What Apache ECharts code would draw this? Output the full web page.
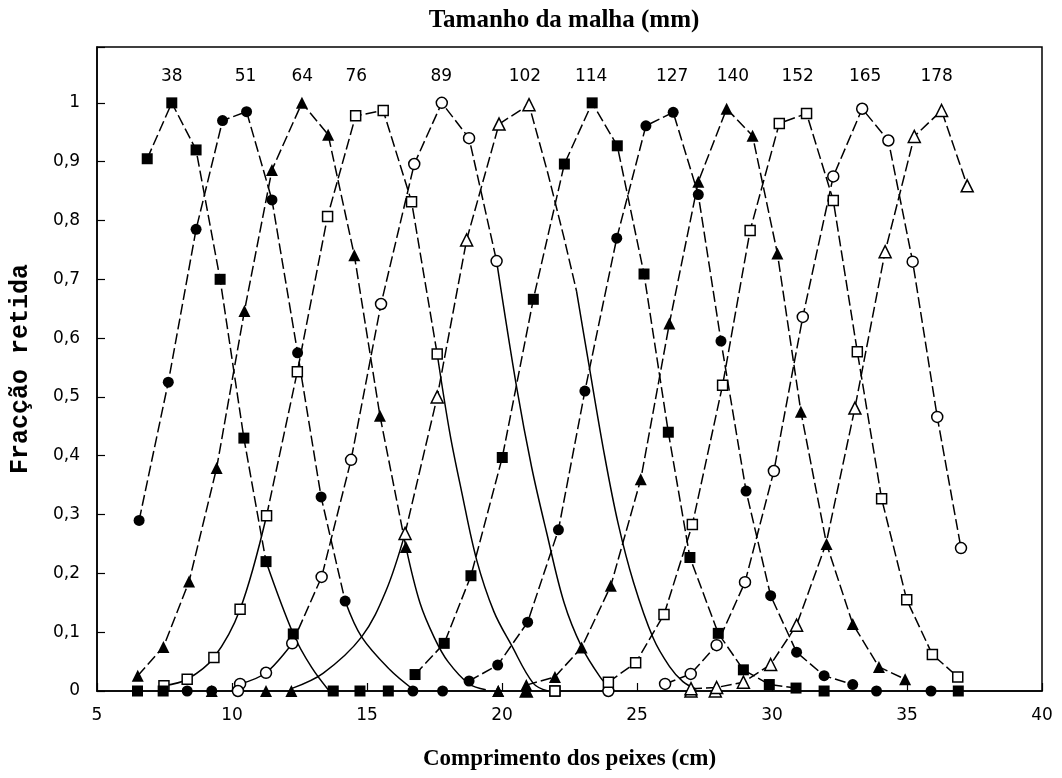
<!DOCTYPE html>
<html><head><meta charset="utf-8">
<script src="https://cdn.jsdelivr.net/npm/echarts@6/dist/echarts.min.js"></script>
<style>html,body{margin:0;padding:0;background:#fff}#c{width:1062px;height:778px}</style>
</head><body><div id="c"></div>
<script>
// Mesh sizes (mm) and where their label sits (fish length, cm)
const meshSizes = ['38','51','64','76','89','102','114','127','140','152','165','178'];
const meshLabelX = [7.77,10.5,12.6,14.6,17.75,20.85,23.3,26.3,28.55,30.95,33.45,36.1];
const xTicks = [5,10,15,20,25,30,35,40];

// marked points (length cm, fraction retained)
const marks38 = [[6.86,0.905],[7.77,1.0],[8.67,0.92],[9.56,0.70],[10.44,0.43],[11.26,0.22],[12.27,0.097],[13.75,0],[14.74,0],[15.79,0]];
const dash38 = [[6.86,0.905],[7.77,1.0],[8.67,0.92],[9.56,0.70],[10.44,0.43],[11.26,0.22]];
const solid38 = [[11.26,0.22],[12.27,0.097],[12.95,0.04],[13.6,0.0]];

const marks51 = [[6.56,0.29],[7.64,0.525],[8.67,0.785],[9.65,0.97],[10.54,0.985],[11.48,0.835],[12.43,0.575],[13.3,0.33],[14.19,0.153],[16.7,0]];
const dash51 = [[6.56,0.29],[7.64,0.525],[8.67,0.785],[9.65,0.97],[10.54,0.985],[11.48,0.835],[12.43,0.575],[13.3,0.33],[14.19,0.153]];
const solid51 = [[14.19,0.153],[14.8,0.092],[15.85,0.036],[16.7,0.003]];

const marks64 = [[6.51,0.026],[7.46,0.075],[8.41,0.186],[9.43,0.379],[10.46,0.646],[11.48,0.886],[12.59,1.0],[13.56,0.946],[14.53,0.741],[15.48,0.468],[16.44,0.245],[19.86,0],[20.9,0]];
const dash64 = [[6.51,0.026],[7.46,0.075],[8.41,0.186],[9.43,0.379],[10.46,0.646],[11.48,0.886],[12.59,1.0],[13.56,0.946],[14.53,0.741],[15.48,0.468],[16.44,0.245]];
const solid64 = [[16.44,0.245],[16.96,0.15],[17.5,0.09],[18.0,0.05],[18.78,0.012],[19.4,0.002]];

const marks76 = [[7.48,0.009],[8.34,0.02],[9.33,0.057],[10.3,0.139],[11.28,0.298],[12.42,0.543],[13.54,0.807],[14.58,0.978],[15.6,0.987],[16.65,0.832],[17.6,0.573],[21.96,0]];
const solidL76 = [[7.48,0.009],[8.34,0.02],[9.33,0.057],[10.3,0.139],[11.28,0.298]];
const dash76 = [[11.28,0.298],[12.42,0.543],[13.54,0.807],[14.58,0.978],[15.6,0.987],[16.65,0.832],[17.6,0.573]];
const solid76 = [[17.6,0.573],[18.07,0.438],[18.5,0.34],[19.06,0.223],[19.7,0.135],[20.36,0.077],[21.16,0.013],[21.7,0.0]];

const marks89 = [[10.3,0.012],[11.26,0.031],[12.23,0.081],[13.32,0.194],[14.41,0.393],[15.52,0.658],[16.75,0.896],[17.77,1.0],[18.78,0.94],[19.8,0.731],[23.94,0]];
const solidL89 = [[10.3,0.012],[11.26,0.031],[12.23,0.081]];
const dash89 = [[12.23,0.081],[13.32,0.194],[14.41,0.393],[15.52,0.658],[16.75,0.896],[17.77,1.0],[18.78,0.94],[19.8,0.731]];
const solid89 = [[19.8,0.731],[20.54,0.517],[21.1,0.38],[21.65,0.27],[22.3,0.15],[22.95,0.075],[23.63,0.024],[24.0,0.005]];

const marks102 = [[16.41,0.268],[17.6,0.50],[18.69,0.767],[19.89,0.964],[21.0,0.997],[27.0,0],[27.9,0]];
const solidL102 = [[12.2,0.004],[13.37,0.03],[14.8,0.092],[15.7,0.17],[16.41,0.268]];
const dash102 = [[16.41,0.268],[17.6,0.50],[18.69,0.767],[19.89,0.964],[21.0,0.997],[21.7,0.88],[22.3,0.77],[22.76,0.68]];
const solid102 = [[22.76,0.68],[23.2,0.56],[23.8,0.40],[24.3,0.285],[24.87,0.185],[25.6,0.09],[26.2,0.042],[26.7,0.016],[27.2,0.003]];

const marks114 = [[6.5,0],[7.45,0],[16.78,0.028],[17.86,0.081],[18.85,0.196],[20.01,0.397],[21.16,0.666],[22.31,0.896],[23.34,1.0],[24.27,0.927],[25.26,0.709],[26.16,0.44],[26.96,0.227],[28.01,0.098],[28.94,0.036],[29.9,0.011],[30.89,0.005],[31.93,0],[36.9,0]];
const dash114 = [[16.78,0.028],[17.86,0.081],[18.85,0.196],[20.01,0.397],[21.16,0.666],[22.31,0.896],[23.34,1.0],[24.27,0.927],[25.26,0.709],[26.16,0.44],[26.96,0.227],[28.01,0.098],[28.94,0.036],[29.9,0.011],[30.89,0.005]];

const marks127 = [[8.34,0],[9.25,0],[17.8,0],[18.78,0.017],[19.84,0.044],[20.95,0.117],[22.09,0.274],[23.07,0.51],[24.25,0.77],[25.33,0.961],[26.34,0.984],[27.27,0.844],[28.11,0.595],[29.04,0.34],[29.95,0.162],[30.91,0.066],[31.93,0.026],[32.99,0.011],[33.87,0],[35.89,0]];
const dash127 = [[18.78,0.017],[19.84,0.044],[20.95,0.117],[22.09,0.274],[23.07,0.51],[24.25,0.77],[25.33,0.961],[26.34,0.984],[27.27,0.844],[28.11,0.595],[29.04,0.34],[29.95,0.162],[30.91,0.066],[31.93,0.026],[32.99,0.011]];

const marks140 = [[9.25,0],[11.26,0],[12.2,0],[19.86,0],[20.9,0.01],[21.96,0.024],[22.95,0.074],[24.03,0.179],[25.14,0.36],[26.2,0.625],[27.27,0.866],[28.32,0.99],[29.28,0.944],[30.2,0.744],[31.07,0.475],[32.02,0.25],[32.99,0.114],[33.96,0.041],[34.93,0.02]];
const dash140 = [[20.9,0.01],[21.96,0.024],[22.95,0.074],[24.03,0.179],[25.14,0.36],[26.2,0.625],[27.27,0.866],[28.32,0.99],[29.28,0.944],[30.2,0.744],[31.07,0.475],[32.02,0.25],[32.99,0.114],[33.96,0.041],[34.93,0.02]];

const marks152 = [[21.96,0],[23.94,0.015],[24.95,0.048],[26.0,0.13],[27.05,0.283],[28.17,0.52],[29.19,0.783],[30.27,0.965],[31.28,0.982],[32.27,0.834],[33.16,0.577],[34.06,0.327],[34.99,0.155],[35.94,0.062],[36.88,0.024]];
const dash152 = [[23.94,0.015],[24.95,0.048],[26.0,0.13],[27.05,0.283],[28.17,0.52],[29.19,0.783],[30.27,0.965],[31.28,0.982],[32.27,0.834],[33.16,0.577],[34.06,0.327],[34.99,0.155],[35.94,0.062],[36.88,0.024]];

const marks165 = [[10.22,0],[26.04,0.012],[26.99,0.029],[27.95,0.078],[29.0,0.185],[30.07,0.374],[31.14,0.636],[32.27,0.875],[33.34,0.99],[34.31,0.936],[35.21,0.73],[36.12,0.466],[37.0,0.243]];
const dash165 = [[26.04,0.012],[26.99,0.029],[27.95,0.078],[29.0,0.185],[30.07,0.374],[31.14,0.636],[32.27,0.875],[33.34,0.99],[34.31,0.936],[35.21,0.73],[36.12,0.466],[37.0,0.243]];

const marks178 = [[20.9,0],[27.0,0.004],[27.95,0.006],[28.94,0.015],[29.95,0.045],[30.91,0.112],[33.07,0.481],[34.19,0.747],[35.27,0.943],[36.28,0.987],[37.23,0.859]];
const dash178 = [[27.0,0.004],[27.95,0.006],[28.94,0.015],[29.95,0.045],[30.91,0.112],[32.0,0.25],[33.07,0.481],[34.19,0.747],[35.27,0.943],[36.28,0.987],[37.23,0.859]];

const allMarks = [marks38,marks51,marks64,marks76,marks89,marks102,marks114,marks127,marks140,marks152,marks165,marks178];
const allDash = [dash38,dash51,dash64,dash76,dash89,dash102,dash114,dash127,dash140,dash152,dash165,dash178];
const allSolid = [[solid38],[solid51],[solid64],[solidL76,solid76],[solidL89,solid89],[solidL102,solid102],[],[],[],[],[],[]];

const shapes = ['rect','circle','triangle'];
const series = [];
allDash.forEach(function(d){
  series.push({type:'line',data:d,symbol:'none',silent:true,z:2,
    lineStyle:{color:'#000',width:1.5,type:[11,4]}});
});
allSolid.forEach(function(list){
  list.forEach(function(d){
    series.push({type:'line',data:d,symbol:'none',silent:true,z:2,smooth:0.35,
      lineStyle:{color:'#000',width:1.5,type:'solid'}});
  });
});
allMarks.forEach(function(d,i){
  const shape = shapes[i%3];
  const filled = (i%6) < 3;
  const size = shape==='rect' ? (filled?11:10) : shape==='circle' ? 11 : 12;
  series.push({type:'scatter',data:d,symbol:shape,symbolSize:size,silent:true,z:3+(filled?1:0),
    itemStyle: filled ? {color:'#000',borderColor:'#000',borderWidth:0,opacity:1}
                      : {color:'#fff',borderColor:'#000',borderWidth:1.5,opacity:1}});
});
series.push({type:'scatter',symbol:'circle',symbolSize:2,silent:true,z:6,
  itemStyle:{color:'rgba(255,255,255,0)',borderWidth:0,opacity:1},
  data: meshLabelX.map(function(x,i){return {value:[x,1.045],name:meshSizes[i]};}),
  label:{show:true,position:'inside',formatter:function(p){return p.name;},color:'#000',fontSize:17,fontFamily:'DejaVu Sans',opacity:1},
  labelLayout:{hideOverlap:false}});

const chart = echarts.init(document.getElementById('c'),null,{renderer:'canvas'});
chart.setOption({
  animation:false,
  backgroundColor:'#fff',
  grid:{left:97,right:20,top:47,bottom:87,show:true,borderColor:'#000',borderWidth:1.5,backgroundColor:'transparent'},
  graphic:[{type:'text',x:564,y:21,style:{text:'Tamanho da malha (mm)',textAlign:'center',textVerticalAlign:'middle',
    font:'bold 25px "Liberation Serif"',fill:'#000'}}],
  xAxis:{type:'value',min:xTicks[0],max:xTicks[xTicks.length-1],interval:5,
    name:'Comprimento dos peixes (cm)',nameLocation:'middle',nameGap:57,
    nameTextStyle:{fontFamily:'Liberation Serif',fontWeight:'bold',fontSize:23,color:'#000'},
    axisLine:{show:true,lineStyle:{color:'#000',width:1.5}},
    axisTick:{show:true,inside:true,length:8,lineStyle:{color:'#000',width:1.2}},
    axisLabel:{color:'#000',fontSize:17,fontFamily:'DejaVu Sans',margin:16},
    splitLine:{show:false}},
  yAxis:{type:'value',min:0,max:1.095,interval:0.1,
    name:'Fracção retida',nameLocation:'middle',nameRotate:90,nameGap:64,
    nameTextStyle:{fontFamily:'Liberation Mono',fontWeight:'bold',fontSize:25,color:'#000'},
    axisLine:{show:true,lineStyle:{color:'#000',width:1.5}},
    axisTick:{show:true,inside:true,length:8,lineStyle:{color:'#000',width:1.2}},
    axisLabel:{color:'#000',fontSize:17,fontFamily:'DejaVu Sans',margin:17,
      formatter:function(v){ if(v>1.0001) return ''; if(Math.abs(v)<1e-9) return '0'; if(Math.abs(v-1)<1e-9) return '1'; return v.toFixed(1).replace('.',','); }},
    splitLine:{show:false}},
  series:series
});
</script></body></html>
